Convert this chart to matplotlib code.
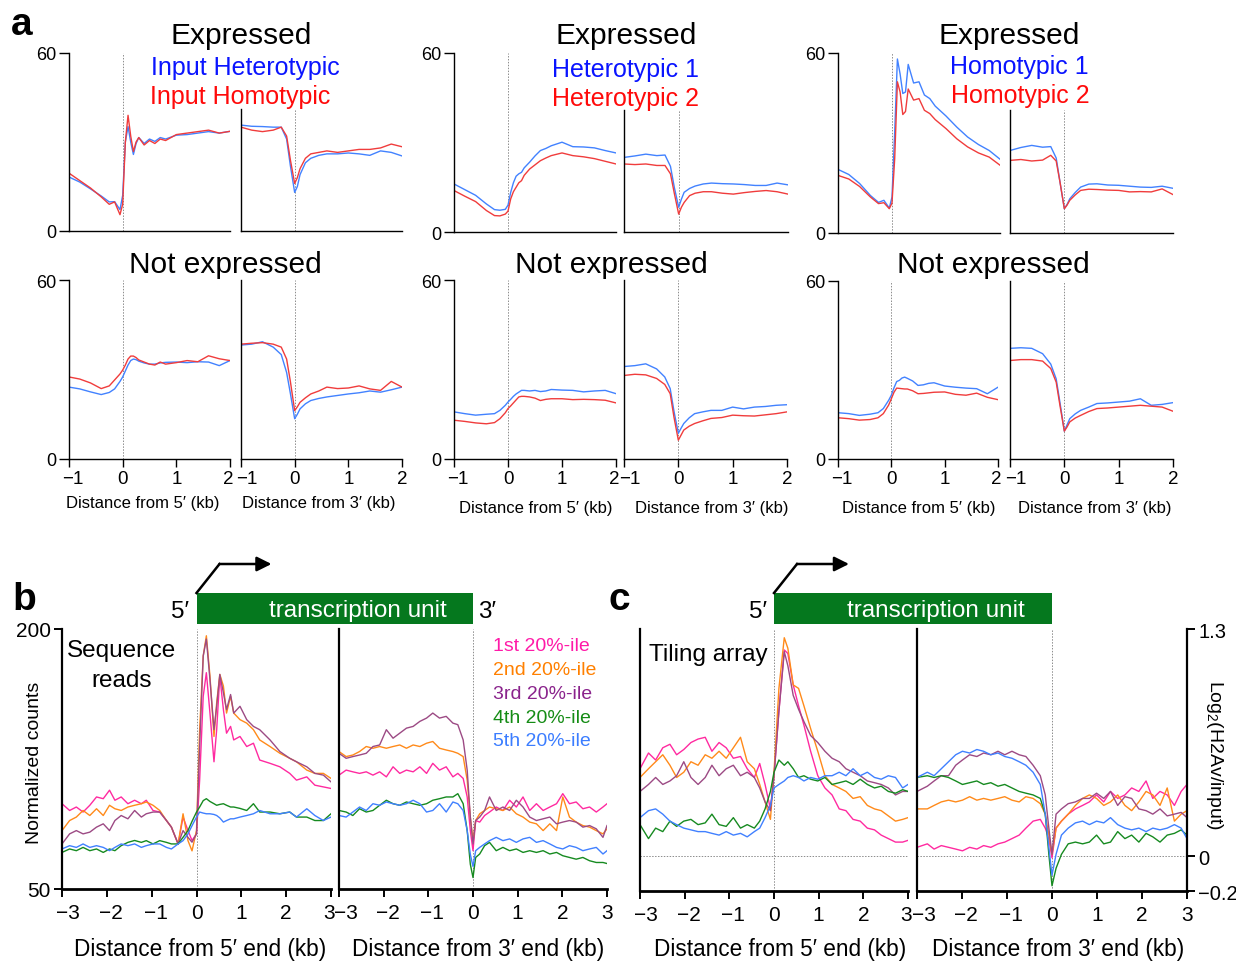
import matplotlib
matplotlib.use("Agg")
import matplotlib.pyplot as plt
import matplotlib.transforms as mtransforms
from matplotlib.patches import Rectangle, FancyArrowPatch
from matplotlib.lines import Line2D

plt.rcParams['font.family'] = ['Liberation Sans', 'DejaVu Sans']
plt.rcParams['mathtext.fontset'] = 'custom'
plt.rcParams['mathtext.rm'] = 'Liberation Sans'
plt.rcParams['axes.unicode_minus'] = True

# ---------------- data: panel a (x in kb, y in counts) ----------------
XA5 = [-1.0, -0.8, -0.6, -0.4, -0.25, -0.15, -0.05, 0.0, 0.05, 0.1, 0.15, 0.2, 0.25,
       0.3, 0.4, 0.5, 0.6, 0.7, 0.8, 1.0, 1.2, 1.4, 1.6, 1.8, 2.0]
XA3 = [-1.0, -0.8, -0.6, -0.4, -0.25, -0.15, -0.08, 0.0, 0.05, 0.1, 0.2, 0.3, 0.45,
       0.6, 0.8, 1.0, 1.2, 1.4, 1.6, 1.8, 2.0]

# group 1: Input Heterotypic (blue) / Input Homotypic (red)
g1_exp5_blue = [18.2, 16.5, 14.2, 11.8, 9.8, 9.9, 7.2, 12.0, 30.0, 35.2, 30.0, 25.8, 29.5,
                31.5, 29.5, 31.0, 30.2, 31.5, 31.0, 32.3, 32.5, 33.0, 33.5, 33.0, 33.6]
g1_exp5_red = [19.5, 17.0, 14.5, 11.5, 9.0, 9.8, 5.5, 9.0, 30.0, 39.0, 32.0, 26.8, 30.0,
               31.5, 29.0, 30.5, 29.5, 31.0, 30.5, 32.5, 33.0, 33.5, 34.0, 33.0, 33.6]
g1_exp3_blue = [35.7, 35.3, 35.2, 35.0, 35.0, 31.0, 22.0, 13.0, 15.0, 19.0, 23.0, 24.5, 25.5,
                26.0, 26.0, 26.3, 26.0, 25.5, 27.0, 26.5, 25.3]
g1_exp3_red = [35.0, 34.0, 33.5, 34.0, 35.0, 32.0, 24.0, 16.0, 18.0, 21.0, 24.5, 26.0, 26.5,
               27.0, 26.5, 27.0, 27.5, 27.5, 28.0, 29.3, 28.4]
g1_not5_blue = [24.1, 23.5, 22.5, 21.6, 22.3, 23.5, 26.0, 27.5, 29.5, 31.5, 33.0, 33.5, 33.3,
                32.8, 32.2, 31.8, 31.8, 32.2, 32.4, 32.5, 32.3, 32.6, 32.5, 31.3, 33.0]
g1_not5_red = [27.5, 26.8, 25.5, 23.6, 24.5, 26.5, 28.5, 29.8, 31.5, 33.5, 34.5, 34.5, 34.0,
               33.2, 32.5, 31.8, 31.5, 32.5, 31.8, 32.3, 33.0, 32.6, 34.6, 33.6, 33.0]
g1_not3_blue = [38.2, 38.5, 39.3, 37.5, 35.0, 29.0, 22.0, 13.5, 15.0, 16.8, 18.5, 19.6, 20.3,
                20.8, 21.3, 21.8, 22.2, 22.8, 22.4, 23.2, 24.1]
g1_not3_red = [38.5, 38.8, 39.0, 38.5, 37.5, 33.5, 26.0, 16.2, 17.5, 19.0, 20.5, 21.8, 22.8,
               24.1, 23.6, 23.8, 24.5, 23.5, 23.0, 26.0, 24.1]

# group 2: Heterotypic 1 (blue) / Heterotypic 2 (red)
g2_exp5_blue = [16.1, 14.2, 12.3, 9.4, 7.5, 7.3, 7.6, 9.0, 13.3, 16.5, 18.7, 19.5, 20.0,
                21.5, 23.4, 25.5, 27.3, 28.0, 28.9, 30.1, 28.6, 28.5, 28.2, 27.3, 26.5]
g2_exp5_red = [13.9, 12.0, 10.2, 7.2, 5.5, 5.4, 6.0, 7.0, 11.1, 13.5, 15.0, 16.5, 17.2,
               19.0, 21.1, 22.5, 23.9, 24.8, 25.6, 26.5, 25.6, 25.2, 24.6, 23.7, 22.8]
g2_exp3_blue = [25.0, 25.5, 26.1, 25.6, 25.8, 22.0, 15.0, 8.3, 11.0, 13.3, 14.6, 15.4, 16.1,
                16.4, 16.2, 16.1, 15.9, 15.6, 15.6, 16.4, 15.8]
g2_exp3_red = [22.8, 22.6, 22.8, 22.3, 22.3, 19.5, 13.0, 6.0, 8.3, 9.9, 12.2, 13.0, 13.5,
               13.5, 13.0, 12.7, 13.2, 13.6, 13.9, 13.5, 12.7]
g2_not5_blue = [15.8, 15.2, 14.7, 15.0, 15.2, 16.3, 18.0, 19.1, 20.0, 21.0, 21.8, 22.4, 23.0,
                23.0, 22.8, 23.0, 22.6, 22.8, 23.3, 23.1, 23.0, 22.5, 22.8, 23.0, 21.9]
g2_not5_red = [13.0, 12.6, 12.1, 11.8, 12.2, 13.5, 15.5, 16.9, 17.8, 18.8, 19.8, 20.8, 21.0,
               21.0, 20.8, 20.4, 19.6, 20.0, 20.2, 20.2, 19.9, 20.0, 19.9, 19.7, 18.8]
g2_not3_blue = [31.0, 31.3, 31.9, 30.2, 27.5, 23.6, 16.0, 8.6, 10.3, 11.9, 13.8, 15.2, 15.8,
                16.3, 16.3, 17.4, 16.8, 17.4, 17.6, 18.0, 18.2]
g2_not3_red = [28.0, 28.4, 28.2, 27.0, 25.0, 21.9, 14.0, 6.3, 8.0, 9.7, 11.0, 11.9, 12.8,
               13.6, 13.9, 14.7, 14.5, 14.4, 14.8, 15.2, 15.8]

# group 3: Homotypic 1 (blue) / Homotypic 2 (red)
g3_exp5_blue = [21.2, 19.5, 16.5, 12.5, 10.2, 10.9, 8.3, 12.0, 33.7, 58.0, 53.0, 46.5, 47.0,
                56.2, 50.0, 50.4, 46.0, 44.8, 42.3, 39.0, 35.3, 32.0, 29.5, 27.5, 24.6]
g3_exp5_red = [19.2, 18.0, 15.5, 12.0, 9.8, 10.1, 8.1, 10.0, 24.8, 50.4, 47.0, 39.5, 40.5,
               48.0, 44.3, 44.8, 40.9, 39.8, 37.8, 34.8, 31.4, 28.7, 26.7, 25.3, 22.6]
g3_exp3_blue = [27.5, 28.5, 29.2, 28.6, 28.8, 25.0, 17.0, 8.1, 9.5, 11.4, 13.5, 15.3, 16.3,
                16.4, 16.0, 15.9, 15.6, 15.3, 15.2, 15.6, 14.9]
g3_exp3_red = [24.2, 24.5, 24.0, 24.3, 25.9, 24.0, 17.0, 8.1, 9.3, 10.9, 12.7, 14.2, 14.6,
               14.5, 14.3, 14.2, 13.7, 13.8, 13.7, 14.7, 12.8]
g3_not5_blue = [15.6, 15.3, 14.7, 15.1, 15.6, 17.0, 19.8, 21.5, 24.0, 26.1, 26.5, 27.3, 27.6,
                27.2, 26.3, 24.8, 25.0, 25.5, 25.7, 24.6, 24.2, 23.9, 23.7, 22.0, 24.2]
g3_not5_red = [13.9, 13.6, 13.1, 13.3, 13.9, 15.3, 18.2, 20.3, 22.5, 23.9, 23.8, 23.7, 23.6,
               23.6, 23.0, 22.0, 22.1, 22.3, 22.5, 22.6, 21.8, 21.5, 22.2, 20.8, 20.0]
g3_not3_blue = [37.3, 37.5, 37.3, 35.5, 32.0, 27.0, 19.0, 9.4, 11.5, 13.6, 15.2, 16.4, 17.5,
                18.7, 18.9, 19.2, 19.5, 20.3, 18.1, 18.4, 19.0]
g3_not3_red = [33.2, 33.5, 33.5, 33.0, 30.5, 25.9, 18.0, 9.4, 10.8, 12.5, 13.8, 14.7, 16.0,
               17.0, 17.2, 17.5, 17.8, 18.1, 17.8, 17.5, 16.1]

# ---------------- data: panel b (normalized counts) ----------------
XB5 = [-3.0, -2.83, -2.68, -2.53, -2.38, -2.23, -2.08, -1.94, -1.82, -1.68,
       -1.53, -1.38, -1.23, -1.12, -0.97, -0.82, -0.67, -0.56, -0.41, -0.30,
       -0.19, -0.10, 0.0, 0.07, 0.15, 0.22, 0.30, 0.39, 0.45, 0.52,
       0.60, 0.67, 0.76, 0.83, 0.97, 1.12, 1.27, 1.41, 1.64, 1.86,
       2.08, 2.23, 2.46, 2.64, 2.83, 3.0]
b5_q1 = [99.2, 95.3, 97.3, 94.4, 98.3, 103.1, 102.1, 107.0, 101.2, 103.1,
         99.2, 101.2, 99.2, 101.2, 95.3, 94.4, 89.5, 85.7, 76.0, 91.5,
         83.7, 78.0, 81.8, 112.8, 161.2, 174.8, 151.5, 123.4, 141.9, 172.9,
         153.5, 139.9, 143.8, 136.0, 138.0, 132.2, 134.1, 124.4, 122.5, 120.5,
         116.7, 112.8, 114.7, 109.9, 108.9, 108.0]
b5_q2 = [83.7, 89.5, 91.5, 95.3, 92.4, 96.3, 92.4, 98.3, 96.3, 95.3,
         97.3, 98.3, 99.2, 100.2, 98.3, 95.3, 89.5, 85.7, 76.0, 93.4,
         77.9, 72.0, 83.7, 141.9, 184.5, 196.1, 172.9, 138.0, 157.4, 173.8,
         167.1, 151.5, 161.2, 151.5, 147.7, 145.7, 141.9, 136.0, 132.2, 128.3,
         125.4, 123.4, 118.6, 116.7, 116.7, 113.8]
b5_q3 = [76.0, 81.8, 83.7, 81.8, 82.8, 85.7, 87.6, 83.7, 89.5, 92.4,
         90.5, 95.3, 91.5, 93.4, 94.4, 94.4, 89.5, 85.7, 76.0, 83.7,
         79.8, 77.0, 81.8, 132.2, 184.5, 194.2, 170.9, 141.9, 155.4, 173.8,
         163.2, 153.5, 162.2, 151.5, 155.4, 147.7, 143.8, 141.9, 136.0, 129.3,
         125.4, 123.4, 120.5, 116.7, 115.7, 111.8]
b5_q4 = [71.1, 73.1, 72.1, 74.0, 72.1, 73.1, 71.1, 73.1, 72.1, 75.0,
         76.9, 78.0, 76.9, 77.9, 76.0, 77.9, 76.9, 76.0, 76.0, 79.8,
         83.7, 89.0, 94.4, 97.3, 101.0, 102.1, 100.5, 99.2, 98.3, 98.8,
         99.2, 98.3, 97.3, 97.3, 96.5, 95.3, 99.2, 94.4, 94.4, 93.4,
         94.4, 91.5, 91.5, 89.5, 89.5, 93.4]
b5_q5 = [73.1, 75.0, 74.0, 76.0, 74.0, 75.0, 74.0, 72.1, 74.0, 76.0,
         75.0, 76.0, 74.0, 75.0, 76.0, 76.0, 74.0, 73.1, 76.0, 77.9,
         81.8, 86.5, 91.5, 94.4, 93.8, 93.4, 93.4, 93.0, 92.4, 91.0,
         88.6, 89.5, 90.5, 90.5, 91.5, 92.4, 93.4, 95.3, 93.4, 93.4,
         94.4, 91.5, 96.3, 92.4, 89.5, 91.5]

XB3 = [-3.0, -2.84, -2.69, -2.54, -2.39, -2.24, -2.09, -1.94, -1.79, -1.64,
       -1.49, -1.34, -1.19, -1.04, -0.90, -0.75, -0.60, -0.45, -0.34, -0.22,
       -0.13, -0.06, 0.0, 0.06, 0.15, 0.26, 0.37, 0.52, 0.67, 0.82,
       0.97, 1.12, 1.27, 1.42, 1.57, 1.72, 1.87, 2.01, 2.16, 2.31,
       2.46, 2.61, 2.76, 2.91, 3.0]
b3_q1 = [115.7, 118.6, 117.6, 116.7, 117.6, 115.7, 117.6, 114.7, 120.5, 116.7,
         118.6, 117.6, 120.5, 116.7, 122.5, 118.6, 120.5, 114.7, 116.7, 113.8,
         103.1, 83.7, 72.1, 89.5, 88.6, 92.4, 94.4, 97.3, 95.3, 101.2,
         97.3, 103.1, 95.3, 99.2, 95.3, 97.3, 99.2, 105.0, 99.2, 100.2,
         96.3, 97.3, 94.4, 97.3, 99.2]
b3_q2 = [129.3, 126.4, 127.3, 129.3, 132.2, 131.2, 132.2, 131.2, 132.2, 133.1,
         131.2, 133.1, 132.2, 134.1, 135.1, 131.2, 130.2, 129.3, 128.3, 126.4,
         112.8, 91.5, 77.9, 89.5, 93.4, 95.3, 97.3, 96.3, 95.3, 97.3,
         93.4, 91.5, 88.6, 87.6, 83.7, 87.6, 83.7, 103.1, 91.5, 88.6,
         86.6, 85.7, 83.7, 81.8, 84.7]
b3_q3 = [128.3, 125.4, 126.4, 127.3, 128.3, 132.2, 133.1, 141.9, 137.0, 139.9,
         142.8, 143.8, 146.7, 148.6, 151.5, 148.6, 149.6, 145.7, 144.8, 136.0,
         118.6, 91.5, 76.0, 89.5, 91.5, 95.3, 103.1, 95.3, 97.3, 95.3,
         101.2, 97.3, 91.5, 89.5, 90.5, 91.5, 87.6, 88.6, 89.5, 88.6,
         85.7, 86.6, 84.7, 79.8, 86.6]
b3_q4 = [95.3, 94.4, 92.4, 96.3, 94.4, 95.3, 98.3, 101.2, 99.2, 98.3,
         100.2, 99.2, 98.3, 99.2, 101.2, 102.1, 103.1, 103.1, 105.0, 99.2,
         83.7, 64.3, 56.6, 68.2, 70.2, 75.0, 76.9, 72.1, 74.0, 72.1,
         73.1, 71.1, 72.1, 71.1, 72.1, 70.2, 71.1, 69.2, 68.2, 67.2,
         68.2, 66.3, 65.3, 65.3, 64.7]
b3_q5 = [92.4, 91.5, 94.4, 97.3, 95.3, 99.2, 98.3, 100.2, 99.2, 98.3,
         99.2, 101.2, 99.2, 94.4, 95.3, 99.2, 94.4, 100.2, 99.2, 95.3,
         83.7, 70.0, 63.0, 72.1, 74.0, 76.0, 77.9, 79.8, 77.9, 78.9,
         76.9, 78.9, 79.8, 76.9, 77.9, 76.0, 74.0, 73.1, 75.0, 74.0,
         72.1, 73.1, 74.0, 70.2, 72.1]

# ---------------- data: panel c (log2 H2Av/input) ----------------
XC5 = [-3.0, -2.81, -2.65, -2.49, -2.33, -2.18, -2.02, -1.86, -1.70, -1.54,
       -1.39, -1.23, -1.07, -0.91, -0.75, -0.60, -0.44, -0.32, -0.20, -0.08,
       0.0, 0.11, 0.23, 0.31, 0.43, 0.55, 0.67, 0.82, 0.98, 1.14,
       1.30, 1.46, 1.61, 1.77, 1.93, 2.09, 2.25, 2.40, 2.56, 2.72,
       2.88, 3.0]
c5_q1 = [0.50, 0.59, 0.55, 0.62, 0.64, 0.58, 0.61, 0.65, 0.67, 0.68,
         0.60, 0.65, 0.62, 0.56, 0.57, 0.50, 0.45, 0.53, 0.41, 0.27,
         0.46, 0.83, 1.18, 1.16, 0.98, 0.86, 0.75, 0.60, 0.46, 0.39,
         0.35, 0.27, 0.26, 0.21, 0.20, 0.16, 0.15, 0.12, 0.10, 0.08,
         0.08, 0.09]
c5_q2 = [0.45, 0.50, 0.54, 0.58, 0.52, 0.45, 0.48, 0.54, 0.52, 0.58,
         0.56, 0.60, 0.56, 0.62, 0.68, 0.54, 0.50, 0.41, 0.31, 0.21,
         0.48, 0.96, 1.25, 1.19, 0.98, 0.96, 0.86, 0.73, 0.60, 0.46,
         0.41, 0.39, 0.37, 0.33, 0.34, 0.29, 0.27, 0.26, 0.23, 0.20,
         0.21, 0.22]
c5_q3 = [0.37, 0.41, 0.45, 0.41, 0.43, 0.46, 0.54, 0.45, 0.41, 0.45,
         0.52, 0.46, 0.50, 0.52, 0.46, 0.48, 0.45, 0.39, 0.31, 0.26,
         0.46, 0.83, 1.17, 1.09, 0.92, 0.84, 0.77, 0.69, 0.65, 0.60,
         0.56, 0.54, 0.50, 0.48, 0.46, 0.43, 0.42, 0.41, 0.39, 0.35,
         0.37, 0.37]
c5_q4 = [0.18, 0.10, 0.16, 0.14, 0.20, 0.17, 0.20, 0.21, 0.18, 0.19,
         0.24, 0.18, 0.17, 0.22, 0.16, 0.18, 0.16, 0.20, 0.27, 0.37,
         0.48, 0.55, 0.52, 0.54, 0.50, 0.45, 0.46, 0.44, 0.43, 0.45,
         0.41, 0.42, 0.43, 0.41, 0.44, 0.41, 0.39, 0.40, 0.37, 0.36,
         0.38, 0.37]
c5_q5 = [0.22, 0.26, 0.27, 0.24, 0.20, 0.18, 0.16, 0.15, 0.14, 0.14,
         0.13, 0.12, 0.14, 0.12, 0.13, 0.11, 0.14, 0.16, 0.22, 0.29,
         0.39, 0.41, 0.43, 0.45, 0.46, 0.45, 0.43, 0.45, 0.44, 0.46,
         0.46, 0.48, 0.46, 0.50, 0.46, 0.48, 0.45, 0.44, 0.46, 0.45,
         0.39, 0.41]

XC3 = [-3.0, -2.77, -2.62, -2.46, -2.30, -2.14, -1.99, -1.83, -1.67, -1.52,
       -1.36, -1.20, -1.05, -0.89, -0.73, -0.58, -0.42, -0.26, -0.15, -0.07,
       0.0, 0.09, 0.21, 0.36, 0.52, 0.68, 0.83, 0.99, 1.15, 1.30,
       1.46, 1.62, 1.77, 1.93, 2.09, 2.24, 2.40, 2.56, 2.72, 2.87,
       3.0]
c3_q1 = [0.05, 0.07, 0.04, 0.06, 0.05, 0.04, 0.03, 0.05, 0.04, 0.06,
         0.05, 0.07, 0.08, 0.10, 0.12, 0.16, 0.20, 0.21, 0.16, 0.10,
         -0.01, 0.16, 0.20, 0.24, 0.27, 0.29, 0.31, 0.35, 0.31, 0.37,
         0.33, 0.35, 0.39, 0.37, 0.43, 0.33, 0.37, 0.35, 0.29, 0.37,
         0.41]
c3_q2 = [0.27, 0.27, 0.29, 0.31, 0.32, 0.31, 0.32, 0.34, 0.32, 0.33,
         0.32, 0.33, 0.34, 0.32, 0.31, 0.34, 0.33, 0.30, 0.24, 0.12,
         0.01, 0.16, 0.20, 0.24, 0.29, 0.33, 0.35, 0.33, 0.29, 0.31,
         0.35, 0.29, 0.26, 0.31, 0.37, 0.35, 0.29, 0.39, 0.20, 0.24,
         0.26]
c3_q3 = [0.37, 0.40, 0.43, 0.46, 0.46, 0.52, 0.55, 0.58, 0.57, 0.59,
         0.58, 0.60, 0.58, 0.60, 0.58, 0.57, 0.52, 0.46, 0.35, 0.16,
         0.01, 0.24, 0.27, 0.30, 0.31, 0.33, 0.33, 0.36, 0.33, 0.37,
         0.29, 0.34, 0.33, 0.27, 0.26, 0.24, 0.27, 0.23, 0.24, 0.25,
         0.22]
c3_q4 = [0.45, 0.46, 0.45, 0.46, 0.45, 0.43, 0.41, 0.42, 0.43, 0.41,
         0.42, 0.40, 0.41, 0.39, 0.37, 0.36, 0.35, 0.33, 0.24, 0.01,
         -0.17, -0.07, 0.01, 0.07, 0.08, 0.07, 0.08, 0.12, 0.07, 0.08,
         0.14, 0.10, 0.12, 0.08, 0.13, 0.11, 0.08, 0.12, 0.13, 0.15,
         0.12]
c3_q5 = [0.45, 0.48, 0.46, 0.50, 0.54, 0.58, 0.60, 0.59, 0.61, 0.60,
         0.58, 0.59, 0.57, 0.56, 0.54, 0.52, 0.48, 0.41, 0.24, 0.05,
         -0.11, 0.01, 0.12, 0.16, 0.19, 0.20, 0.18, 0.20, 0.19, 0.22,
         0.18, 0.16, 0.15, 0.16, 0.14, 0.16, 0.15, 0.16, 0.18, 0.16,
         0.10]

quantile_labels = ['1st 20%-ile', '2nd 20%-ile', '3rd 20%-ile', '4th 20%-ile', '5th 20%-ile']
quantile_colors = ['#ff2aa0', '#ff8a1a', '#9c4a84', '#168a20', '#4080ff']
quantile_text_colors = ['#ff1aa8', '#ff8000', '#8a238c', '#158c15', '#3b7dff']

BLUE_LINE = '#4282ff'
RED_LINE = '#f03c3c'
BAR_GREEN = '#05781e'
DOT = dict(color='#8c8c8c', lw=0.7, ls=(0, (1.5, 1.5)), zorder=0)

W, H = 1236, 962
fig = plt.figure(figsize=(W / 100, H / 100), dpi=100)


def add_ax(x0, y0, x1, y1):
    # pixel box (top-left origin) -> figure axes
    return fig.add_axes([x0 / W, 1 - y1 / H, (x1 - x0) / W, (y1 - y0) / H])


def ftext(x, y, s, **kw):
    kw.setdefault('ha', 'center')
    kw.setdefault('va', 'center')
    return fig.text(x / W, 1 - y / H, s, **kw)


def nudge_xlabels(ax, shifts):
    # shift individual x tick labels sideways (pixels), so neighbouring axes' labels don't collide
    for lab, dx in zip(ax.get_xticklabels(), shifts):
        if dx:
            lab.set_transform(lab.get_transform() +
                              mtransforms.ScaledTranslation(dx / 100, 0, fig.dpi_scale_trans))


def small_panel(box, x, blue, red, five_prime, top_row, spine_top=None):
    ax = add_ax(*box)
    ax.plot(x, blue, color=BLUE_LINE, lw=1.0)
    ax.plot(x, red, color=RED_LINE, lw=1.0)
    ax.set_xlim(-1, 2)
    ax.set_ylim(0, 60)
    ax.patch.set_alpha(0)
    for s in ['top', 'right']:
        ax.spines[s].set_visible(False)
    for s in ['left', 'bottom']:
        ax.spines[s].set_linewidth(1.0)
    if spine_top is not None:
        ax.spines['left'].set_bounds(0, spine_top)
        ax.vlines(0, 0, spine_top, **DOT)
    else:
        ax.axvline(0, **DOT)
    if five_prime:
        ax.set_yticks([0, 60])
        ax.tick_params(axis='y', length=7, width=1, labelsize=13, pad=2)
    else:
        ax.set_yticks([])
    if top_row:
        ax.set_xticks([])
    else:
        ax.set_xticks([-1, 0, 1, 2])
        ax.tick_params(axis='x', length=6, width=1, labelsize=13.5, pad=2)
        if five_prime:
            nudge_xlabels(ax, [4, 0, 0, -2])
        else:
            nudge_xlabels(ax, [6, 0, 0, 0])
    return ax


# ---------------- panel a ----------------
groups = [
    dict(exp5=(69, 54, 230, 232), exp3=(241, 54, 402, 232), not5=(69, 281, 230, 460), not3=(241, 281, 402, 460),
         data=(g1_exp5_blue, g1_exp5_red, g1_exp3_blue, g1_exp3_red, g1_not5_blue, g1_not5_red, g1_not3_blue, g1_not3_red),
         title_x=241, not_x=225, labels=('Input Heterotypic', 'Input Homotypic'), lab_x=(245, 240), lab_y=(68, 97),
         xl=(143, 319), xl_y=504),
    dict(exp5=(454, 54, 616, 233), exp3=(624, 54, 788, 233), not5=(454, 281, 616, 460), not3=(624, 281, 787, 460),
         data=(g2_exp5_blue, g2_exp5_red, g2_exp3_blue, g2_exp3_red, g2_not5_blue, g2_not5_red, g2_not3_blue, g2_not3_red),
         title_x=626, not_x=611, labels=('Heterotypic 1', 'Heterotypic 2'), lab_x=(625, 626), lab_y=(70, 99),
         xl=(536, 712), xl_y=508),
    dict(exp5=(838, 54, 1000, 234), exp3=(1010, 54, 1173, 234), not5=(838, 282, 998, 460), not3=(1010, 282, 1173, 460),
         data=(g3_exp5_blue, g3_exp5_red, g3_exp3_blue, g3_exp3_red, g3_not5_blue, g3_not5_red, g3_not3_blue, g3_not3_red),
         title_x=1009, not_x=993, labels=('Homotypic 1', 'Homotypic 2'), lab_x=(1019, 1020), lab_y=(67, 96),
         xl=(919, 1095), xl_y=508),
]

for g in groups:
    d = g['data']
    small_panel(g['exp5'], XA5, d[0], d[1], True, True)
    small_panel(g['exp3'], XA3, d[2], d[3], False, True, spine_top=41)
    small_panel(g['not5'], XA5, d[4], d[5], True, False)
    small_panel(g['not3'], XA3, d[6], d[7], False, False)
    ftext(g['title_x'], 36, 'Expressed', fontsize=21.5)
    ftext(g['not_x'], 265, 'Not expressed', fontsize=21.5)
    ftext(g['lab_x'][0], g['lab_y'][0], g['labels'][0], fontsize=18, color='#0a14ff')
    ftext(g['lab_x'][1], g['lab_y'][1], g['labels'][1], fontsize=18, color='#ff0a0a')
    ftext(g['xl'][0], g['xl_y'], 'Distance from 5\u2032 (kb)', fontsize=12)
    ftext(g['xl'][1], g['xl_y'], 'Distance from 3\u2032 (kb)', fontsize=12)


# ---------------- panels b and c ----------------
def profile_axes(box, x, series, ylim, left_side):
    ax = add_ax(*box)
    for ys, c in zip(series, quantile_colors):
        ax.plot(x, ys, color=c, lw=1.0)
    ax.set_xlim(-3, 3)
    ax.set_ylim(*ylim)
    ax.patch.set_alpha(0)
    ax.spines['top'].set_visible(False)
    ax.spines['right'].set_visible(False)
    ax.spines['left'].set_linewidth(1.6)
    ax.spines['bottom'].set_linewidth(2.0)
    ax.axvline(0, **DOT)
    ax.set_xticks([-3, -2, -1, 0, 1, 2, 3])
    ax.tick_params(axis='x', length=6, width=1.4, labelsize=15, pad=4)
    ax.set_yticks([])
    if left_side:
        nudge_xlabels(ax, [6, 4, 4, 0, 0, 0, -2])
    else:
        nudge_xlabels(ax, [7, 4, 4, 0, 0, 0, 0])
    return ax


axb5 = profile_axes((62, 630, 331, 890), XB5, [b5_q1, b5_q2, b5_q3, b5_q4, b5_q5], (50, 200), True)
axb3 = profile_axes((339, 630, 607, 890), XB3, [b3_q1, b3_q2, b3_q3, b3_q4, b3_q5], (50, 200), False)
axb5.set_yticks([50, 200])
axb5.tick_params(axis='y', length=6, width=1.4, labelsize=15, pad=2)

axc5 = profile_axes((640, 630, 908, 892), XC5, [c5_q1, c5_q2, c5_q3, c5_q4, c5_q5], (-0.2, 1.3), True)
axc3 = profile_axes((917, 630, 1187, 892), XC3, [c3_q1, c3_q2, c3_q3, c3_q4, c3_q5], (-0.2, 1.3), False)
axc5.axhline(0, **DOT)
axc3.axhline(0, **DOT)
axc3.spines['right'].set_visible(True)
axc3.spines['right'].set_linewidth(1.6)
axc3.yaxis.tick_right()
axc3.set_yticks([-0.2, 0, 1.3])
axc3.set_yticklabels(['\u22120.2', '0', '1.3'])
axc3.tick_params(axis='y', length=6, width=1.4, labelsize=14.5, pad=2)

ftext(200, 950, 'Distance from 5\u2032 end (kb)', fontsize=16.3)
ftext(478, 950, 'Distance from 3\u2032 end (kb)', fontsize=16.3)
ftext(780, 950, 'Distance from 5\u2032 end (kb)', fontsize=16.3)
ftext(1058, 950, 'Distance from 3\u2032 end (kb)', fontsize=16.3)
ftext(35, 763, 'Normalized counts', fontsize=14, rotation=90)
ftext(1214, 755, 'Log$_2$(H2Av/input)', fontsize=14, rotation=270)

ftext(122, 651, 'Sequence', fontsize=17.5)
ftext(122, 681, 'reads', fontsize=17.5)
ftext(649, 655, 'Tiling array', fontsize=17.5, ha='left')
for i, (lab, col) in enumerate(zip(quantile_labels, quantile_text_colors)):
    ftext(493, 647 + i * 23.7, lab, fontsize=14, color=col, ha='left')


# transcription-unit bars, positioned from the axes' own data transforms
def to_fig(ax, x, y):
    disp = ax.transData.transform((x, y))
    return fig.transFigure.inverted().transform(disp)


def transcription_unit(ax_left, ax_right, show3):
    x0 = to_fig(ax_left, 0, 0)[0]
    x1 = to_fig(ax_right, 0, 0)[0]
    ytop, ybot = 1 - 594 / H, 1 - 625 / H
    ymid = (ytop + ybot) / 2 - 2 / H
    fig.add_artist(Rectangle((x0, ybot), x1 - x0, ytop - ybot, transform=fig.transFigure,
                             facecolor=BAR_GREEN, edgecolor='none'))
    fig.text((x0 + x1) / 2 + 23 / W, ymid, 'transcription unit', color='white',
             fontsize=17.5, ha='center', va='center')
    fig.text(x0 - 16 / W, ymid, '5\u2032', fontsize=17.5, ha='center', va='center')
    if show3:
        fig.text(x1 + 14 / W, ymid, '3\u2032', fontsize=17.5, ha='center', va='center')
    # promoter arrow
    xk = x0 + 23 / W
    yk = 1 - 565 / H
    fig.add_artist(Line2D([x0, xk], [ytop, yk], transform=fig.transFigure, color='black', lw=1.8))
    fig.add_artist(FancyArrowPatch((xk, yk), (xk + 52 / W, yk), transform=fig.transFigure,
                                   arrowstyle='-|>', mutation_scale=22, color='black', lw=1.8,
                                   shrinkA=0, shrinkB=0))


transcription_unit(axb5, axb3, True)
transcription_unit(axc5, axc3, False)

ftext(22, 25, 'a', fontsize=28, fontweight='bold')
ftext(24, 600, 'b', fontsize=28, fontweight='bold')
ftext(619, 600, 'c', fontsize=28, fontweight='bold')

fig.savefig('out.png', dpi=100)
